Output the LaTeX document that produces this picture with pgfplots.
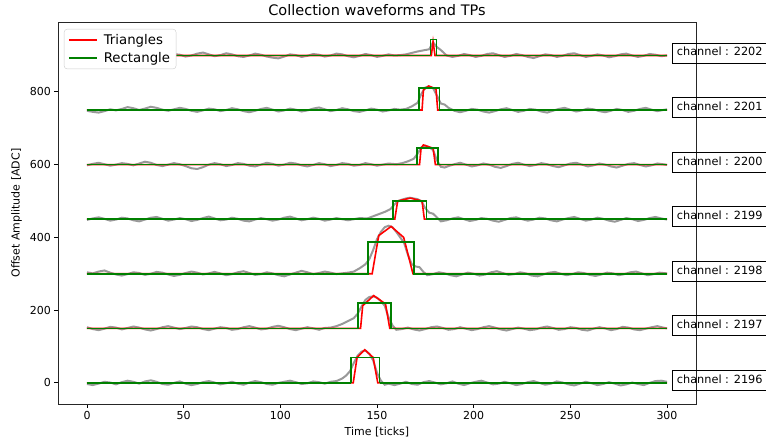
\documentclass[border=0pt]{standalone}
\usepackage{fontspec}
\setmainfont{DejaVu Sans}
\usepackage{pgfplots}
\pgfplotsset{compat=1.18}
\definecolor{tpred}{HTML}{FF0000}
\definecolor{tpgreen}{HTML}{008000}
\definecolor{wfgray}{HTML}{999999}

\begin{document}
\begin{tikzpicture}
\begin{axis}[
  name=ax, scale only axis,
  width=638pt, height=382pt,
  xmin=-15, xmax=315, ymin=-58, ymax=992,
  xtick={0,50,...,300}, ytick={0,200,...,800},
  tick align=outside, tick pos=left,
  major tick length=3.5pt,
  every tick/.style={black, line width=0.8pt},
  axis line style={black!85, line width=0.8pt},
  /pgf/number format/assume math mode=true,
  tick label style={font=\fontsize{11}{13}\selectfont},
  xlabel={Time [ticks]}, ylabel={Offset Amplitude [ADC]},
  label style={font=\fontsize{11}{13}\selectfont},
  xlabel style={at={(0.5,0)}, anchor=base, yshift=-31pt},
  ylabel style={at={(axis description cs:-0.0603,0.5)}, anchor=base},
  legend style={at={(0,1)}, anchor=north west, xshift=6pt, yshift=-7pt,
    draw=black!20, rounded corners=3pt, fill=white,
    font=\fontsize{13.3}{15}\selectfont, row sep=2.5pt,
    inner xsep=4pt, inner ysep=3pt,
    /tikz/every odd column/.append style={column sep=4pt}},
  legend cell align=left,
  legend image code/.code={\draw[#1] (0pt,0pt) -- (28pt,0pt);},
  clip=false,
]
% waveforms
\addplot[wfgray, line width=2pt, forget plot] coordinates {
(0,-3)(3,-6)(6,-2)(9,3)(12,1)(15,-4)(18,2)(21,6)(24,3)(27,-2)(30,4)(33,7)(36,3)(39,-3)(42,-5)(45,0)(48,4)(51,-2)(54,-6)(57,-3)(60,2)(63,5)(66,1)(69,-4)(72,-1)(75,3)(78,-2)(81,-5)(84,1)(87,5)(90,2)(93,-3)(96,-5)(99,0)(102,3)(105,6)(108,2)(111,-3)(114,-1)(117,4)(120,2)(123,-2)(126,3)(129,5)(132,12)(134,20)(136,32)(138,55)(140,75)(142,86)(144,89)(146,80)(148,62)(150,28)(152,6)(154,-5)(156,-2)(159,-6)(162,-2)(165,3)(168,-3)(171,-5)(174,2)(177,5)(180,1)(183,-4)(186,-1)(189,4)(192,-2)(195,-6)(198,-1)(201,3)(204,6)(207,1)(210,-4)(213,-2)(216,3)(219,-1)(222,-6)(225,-3)(228,2)(231,5)(234,0)(237,-5)(240,-2)(243,4)(246,1)(249,-4)(252,-7)(255,-2)(258,3)(261,-1)(264,-6)(267,-3)(270,2)(273,-2)(276,-7)(279,-4)(282,1)(285,-3)(288,-6)(291,0)(294,5)(297,6)(300,3)
};
\addplot[wfgray, line width=2pt, forget plot] coordinates {
(0,153)(3,148)(6,145)(9,149)(12,154)(15,152)(18,147)(21,151)(24,155)(27,152)(30,147)(33,144)(36,148)(39,153)(42,156)(45,152)(48,148)(51,151)(54,155)(57,153)(60,148)(63,145)(66,149)(69,153)(72,151)(75,146)(78,148)(81,153)(84,156)(87,152)(90,147)(93,149)(96,154)(99,157)(102,153)(105,148)(108,145)(111,149)(114,153)(117,150)(120,146)(123,151)(126,152)(129,156)(132,162)(135,170)(138,178)(140,190)(142,210)(144,228)(146,236)(148,238)(150,234)(152,225)(154,212)(156,180)(158,158)(160,146)(163,148)(166,152)(169,147)(172,144)(175,148)(178,153)(181,155)(184,151)(187,146)(190,148)(193,153)(196,149)(199,145)(202,148)(205,153)(208,156)(211,152)(214,147)(217,144)(220,148)(223,152)(226,149)(229,145)(232,147)(235,152)(238,155)(241,151)(244,146)(247,148)(250,153)(253,151)(256,146)(259,144)(262,149)(265,153)(268,150)(271,145)(274,148)(277,154)(280,152)(283,147)(286,145)(289,149)(292,153)(295,156)(298,152)(300,150)
};
\addplot[wfgray, line width=2pt, forget plot] coordinates {
(0,304)(3,301)(6,306)(9,309)(12,303)(15,298)(18,295)(21,299)(24,304)(27,302)(30,297)(33,300)(36,305)(39,303)(42,298)(45,294)(48,297)(51,302)(54,306)(57,303)(60,298)(63,301)(66,305)(69,301)(72,296)(75,299)(78,304)(81,307)(84,302)(87,297)(90,299)(93,304)(96,301)(99,296)(102,293)(105,298)(108,303)(111,308)(114,304)(117,299)(120,302)(123,306)(126,303)(129,299)(132,301)(135,303)(138,306)(141,315)(144,326)(146,340)(148,365)(150,395)(152,415)(154,428)(156,432)(158,428)(160,415)(162,400)(164,385)(166,352)(168,326)(170,320)(172,318)(174,305)(176,296)(179,299)(182,304)(185,301)(188,296)(191,293)(194,298)(197,303)(200,300)(203,295)(206,298)(209,304)(212,307)(215,302)(218,297)(221,299)(224,304)(227,301)(230,295)(233,293)(236,298)(239,303)(242,305)(245,300)(248,296)(251,299)(254,304)(257,302)(260,297)(263,294)(266,298)(269,303)(272,301)(275,296)(278,299)(281,304)(284,306)(287,301)(290,296)(293,299)(296,303)(300,301)
};
\addplot[wfgray, line width=2pt, forget plot] coordinates {
(0,448)(3,452)(6,455)(9,451)(12,446)(15,449)(18,454)(21,452)(24,447)(27,444)(30,449)(33,454)(36,456)(39,451)(42,446)(45,449)(48,453)(51,450)(54,445)(57,448)(60,453)(63,457)(66,452)(69,447)(72,449)(75,454)(78,451)(81,446)(84,444)(87,449)(90,453)(93,450)(96,446)(99,449)(102,454)(105,457)(108,452)(111,447)(114,450)(117,454)(120,451)(123,446)(126,449)(129,453)(132,450)(135,447)(138,450)(141,453)(145,452)(148,458)(151,464)(154,470)(157,478)(159,490)(161,500)(163,504)(165,507)(167,509)(169,507)(171,505)(173,499)(175,480)(177,468)(179,465)(181,455)(183,444)(186,447)(189,452)(192,455)(195,450)(198,445)(201,448)(204,453)(207,451)(210,446)(213,443)(216,448)(219,453)(222,455)(225,450)(228,446)(231,449)(234,454)(237,452)(240,447)(243,444)(246,449)(249,453)(252,456)(255,451)(258,446)(261,449)(264,454)(267,451)(270,446)(273,443)(276,448)(279,453)(282,450)(285,445)(288,448)(291,453)(294,456)(297,452)(300,449)
};
\addplot[wfgray, line width=2pt, forget plot] coordinates {
(0,598)(3,602)(6,605)(9,601)(12,597)(15,600)(18,604)(21,602)(24,598)(27,603)(30,608)(33,605)(36,599)(39,596)(42,600)(45,604)(48,601)(51,596)(54,590)(57,588)(60,593)(63,600)(66,604)(69,601)(72,596)(75,599)(78,604)(81,602)(84,597)(87,595)(90,600)(93,605)(96,602)(99,597)(102,600)(105,605)(108,603)(111,598)(114,595)(117,599)(120,604)(123,601)(126,596)(129,599)(132,604)(135,602)(138,597)(141,599)(144,604)(147,601)(150,597)(153,600)(156,603)(160,601)(163,604)(166,609)(169,616)(171,630)(173,648)(175,652)(177,648)(179,640)(181,612)(183,594)(185,592)(187,596)(190,601)(193,605)(196,600)(199,595)(202,598)(205,603)(208,600)(211,594)(214,591)(217,596)(220,602)(223,605)(226,600)(229,596)(232,599)(235,604)(238,601)(241,596)(244,593)(247,598)(250,603)(253,605)(256,600)(259,595)(262,598)(265,603)(268,600)(271,595)(274,592)(277,597)(280,602)(283,604)(286,599)(289,595)(292,598)(295,603)(298,601)(300,599)
};
\addplot[wfgray, line width=2pt, forget plot] coordinates {
(0,748)(3,745)(6,743)(9,747)(12,752)(15,749)(18,753)(21,758)(24,755)(27,750)(30,754)(33,759)(36,756)(39,751)(42,748)(45,752)(48,756)(51,753)(54,748)(57,745)(60,749)(63,754)(66,752)(69,747)(72,750)(75,755)(78,752)(81,747)(84,744)(87,748)(90,753)(93,756)(96,751)(99,746)(102,749)(105,754)(108,751)(111,746)(114,749)(117,754)(120,757)(123,752)(126,747)(129,750)(132,755)(135,752)(138,747)(141,745)(144,749)(147,754)(150,751)(153,746)(156,749)(159,753)(162,751)(165,753)(168,760)(171,770)(173,795)(175,812)(177,815)(179,810)(181,790)(183,768)(185,765)(187,756)(190,748)(193,744)(196,748)(199,753)(202,751)(205,746)(208,743)(211,747)(214,752)(217,755)(220,750)(223,745)(226,748)(229,753)(232,751)(235,746)(238,743)(241,748)(244,753)(247,756)(250,751)(253,746)(256,749)(259,754)(262,752)(265,747)(268,744)(271,748)(274,753)(277,750)(280,745)(283,748)(286,753)(289,756)(292,751)(295,747)(298,750)(300,752)
};
\addplot[wfgray, line width=2pt, forget plot] coordinates {
(0,901)(3,904)(6,902)(9,897)(12,899)(15,904)(18,906)(21,902)(24,897)(27,900)(30,905)(33,903)(36,898)(39,895)(42,899)(45,904)(48,902)(51,897)(54,900)(57,905)(60,908)(63,903)(66,898)(69,901)(72,906)(75,903)(78,898)(81,896)(84,900)(87,905)(90,902)(93,897)(96,894)(99,892)(102,897)(105,903)(108,901)(111,896)(114,899)(117,904)(120,902)(123,897)(126,900)(129,905)(132,903)(135,898)(138,895)(141,899)(144,904)(147,901)(150,896)(153,899)(156,903)(159,900)(162,901)(165,903)(168,907)(171,911)(174,914)(177,917)(179,936)(181,923)(183,915)(186,900)(189,896)(192,899)(195,904)(198,901)(201,896)(204,899)(207,904)(210,906)(213,901)(216,896)(219,899)(222,904)(225,901)(228,896)(231,893)(234,898)(237,903)(240,901)(243,896)(246,899)(249,904)(252,906)(255,901)(258,896)(261,899)(264,903)(267,900)(270,895)(273,898)(276,903)(279,905)(282,900)(285,896)(288,899)(291,904)(294,902)(297,898)(300,900)
};

% triangles
\addplot[tpred, line width=1.6pt, forget plot] coordinates {(0,0)(137.7,0)(139.7,70)(143.7,91)(148,70)(150.4,0)(300,0)};
\addplot[tpred, line width=1.6pt, forget plot] coordinates {(0,150)(141.5,150)(142.6,212)(148.3,240)(154.4,217)(156.6,150)(300,150)};
\addplot[tpred, line width=1.6pt, forget plot] coordinates {(0,300)(147.5,300)(150.9,405)(157.3,430)(163.8,400)(168.6,300)(300,300)};
\addplot[tpred, line width=1.6pt, forget plot] coordinates {(0,450)(159.2,450)(160.7,500)(167.3,508)(173.3,500)(174.5,450)(300,450)};
\addplot[tpred, line width=1.6pt, forget plot] coordinates {(0,600)(172,600)(172.8,645)(174,654)(179,645)(180.2,600)(300,600)};
\addplot[tpred, line width=1.6pt, forget plot] coordinates {(0,750)(173.3,750)(174,805)(176.7,816)(180.5,808)(181.4,750)(300,750)};
\addplot[tpred, line width=1.6pt, forget plot] coordinates {(0,900)(178.1,900)(179,938)(180,900)(300,900)};

% rectangles: baselines and pulses as separate pieces
\addplot[tpgreen, line width=1.6pt, forget plot] coordinates {(0,0)(136.6,0)};
\addplot[tpgreen, line width=1.6pt, forget plot] coordinates {(136.6,0)(136.6,70)(151.3,70)(151.3,0)};
\addplot[tpgreen, line width=1.6pt, forget plot] coordinates {(151.3,0)(300,0)};
\addplot[tpgreen, line width=1.6pt, forget plot] coordinates {(0,150)(140.1,150)(140.1,219)(157.3,219)(157.3,150)(300,150)};
\addplot[tpgreen, line width=1.6pt, forget plot] coordinates {(0,300)(145.4,300)(145.4,388)(169,388)(169,300)(300,300)};
\addplot[tpgreen, line width=1.6pt, forget plot] coordinates {(0,450)(158.3,450)(158.3,500)(175.5,500)(175.5,450)(300,450)};
\addplot[tpgreen, line width=1.6pt, forget plot] coordinates {(0,600)(170.7,600)(170.7,646)(181.4,646)(181.4,600)(300,600)};
\addplot[tpgreen, line width=1.6pt, forget plot] coordinates {(0,750)(171.6,750)(171.6,810)(182.4,810)(182.4,750)(300,750)};
\addplot[tpgreen, line width=1.6pt, forget plot] coordinates {(0,900)(177.6,900)};
\addplot[tpgreen, line width=1.6pt, forget plot] coordinates {(177.6,900)(177.6,944)(180.7,944)(180.7,900)};
\addplot[tpgreen, line width=1.6pt, forget plot] coordinates {(180.7,900)(300,900)};

\addlegendimage{tpred, line width=1.6pt}
\addlegendentry{Triangles}
\addlegendimage{tpgreen, line width=1.6pt}
\addlegendentry{Rectangle}

% channel labels
\tikzset{chlab/.style={draw=black, line width=0.8pt, anchor=west, yshift=2.5pt,
  inner xsep=4.5pt, inner ysep=4.5pt, text height=8.5pt, text depth=2.5pt,
  font=\fontsize{11.3}{13}\selectfont}}
\node[chlab] at (axis cs:302.6,0) {channel : 2196};
\node[chlab] at (axis cs:302.6,150) {channel : 2197};
\node[chlab] at (axis cs:302.6,300) {channel : 2198};
\node[chlab] at (axis cs:302.6,450) {channel : 2199};
\node[chlab] at (axis cs:302.6,600) {channel : 2200};
\node[chlab] at (axis cs:302.6,750) {channel : 2201};
\node[chlab] at (axis cs:302.6,900) {channel : 2202};
\node[anchor=base, yshift=6pt, font=\fontsize{14.5}{16}\selectfont]
  at (rel axis cs:0.5,1) {Collection waveforms and TPs};
\end{axis}
\pgfresetboundingbox
\path[use as bounding box] (-58pt,-38pt) rectangle (708pt,404pt);
\end{tikzpicture}
\end{document}
